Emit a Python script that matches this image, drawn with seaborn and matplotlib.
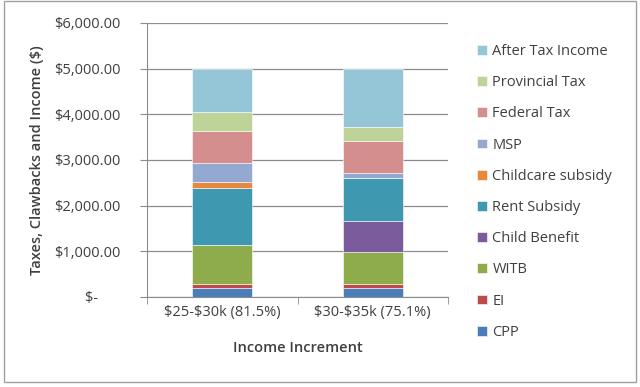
import matplotlib
matplotlib.use("Agg")
import matplotlib.pyplot as plt
import seaborn as sns
from matplotlib.patches import Rectangle
from matplotlib.ticker import FuncFormatter

# data
categories = ["$25-$30k (81.5%)", "$30-$35k (75.1%)"]
cpp = [206, 206]
ei = [88, 88]
witb = [840, 693]
child_benefit = [0, 680]
rent_subsidy = [1243, 929]
childcare_subsidy = [138, 0]
msp = [424, 110]
federal_tax = [701, 708]
provincial_tax = [417, 314]
after_tax_income = [943, 1272]

series = [
    ("CPP", cpp, "#4a7ebb"),
    ("EI", ei, "#be4b48"),
    ("WITB", witb, "#8fac4c"),
    ("Child Benefit", child_benefit, "#7a5c9c"),
    ("Rent Subsidy", rent_subsidy, "#3d98b0"),
    ("Childcare subsidy", childcare_subsidy, "#e9873c"),
    ("MSP", msp, "#94a9d2"),
    ("Federal Tax", federal_tax, "#d48e8d"),
    ("Provincial Tax", provincial_tax, "#bdd398"),
    ("After Tax Income", after_tax_income, "#94c6d8"),
]

sns.set_style("white")
plt.rcParams["font.family"] = ["Open Sans", "DejaVu Sans"]
plt.rcParams["font.size"] = 10.5
plt.rcParams["text.parse_math"] = False

fig = plt.figure(figsize=(6.4, 3.87), dpi=100)
ax = fig.add_axes([0.2297, 0.2326, 0.4703, 0.708])

bottoms = [0, 0]
for name, vals, color in series:
    sns.barplot(x=categories, y=vals, bottom=bottoms, color=color, width=0.4, saturation=1,
                label=name, ax=ax, edgecolor="white", linewidth=0.4, zorder=3)
    bottoms = [b + v for b, v in zip(bottoms, vals)]
if ax.get_legend() is not None:
    ax.get_legend().remove()

ax.set_xlim(-0.5, 1.5)
ax.set_ylim(0, 6000)
ax.set_yticks(range(0, 6001, 1000))


def money(v, pos):
    if v == 0:
        return "$-      "
    return f"${v:,.2f}"


ax.yaxis.set_major_formatter(FuncFormatter(money))
ax.grid(axis="y", color="#8c8c8c", linewidth=0.9, zorder=0)
ax.grid(axis="x", visible=False)
for s in ["top", "right"]:
    ax.spines[s].set_visible(False)
for s in ["left", "bottom"]:
    ax.spines[s].set_color("#8c8c8c")
ax.tick_params(axis="y", which="major", direction="out", length=5, color="#8c8c8c",
               left=True, pad=14, labelcolor="#404040", labelsize=10.5)
ax.tick_params(axis="x", which="major", length=0, pad=6, labelcolor="#404040", labelsize=10.5)
ax.set_xticks([-0.5, 0.5, 1.5], minor=True)
ax.tick_params(axis="x", which="minor", direction="out", length=5, color="#8c8c8c", bottom=True)

ax.set_xlabel("Income Increment", fontsize=10.5, fontweight="semibold", color="#404040", labelpad=15)
ax.set_ylabel("Taxes, Clawbacks and Income ($)", fontsize=10.5, fontweight="semibold",
              color="#404040", labelpad=7)

handles, labels = ax.get_legend_handles_labels()
fig.legend(handles[::-1], labels[::-1], loc="upper left", bbox_to_anchor=(0.725, 0.92),
           frameon=False, handlelength=0.65, handleheight=0.65, handletextpad=0.4,
           labelspacing=1.11, fontsize=10.5, labelcolor="#404040")

fig.patches.append(Rectangle((0.006, 0.012), 0.988, 0.985, transform=fig.transFigure,
                             fill=False, edgecolor="#a0a0a0", linewidth=1.0))

fig.savefig("out.png", dpi=100)
